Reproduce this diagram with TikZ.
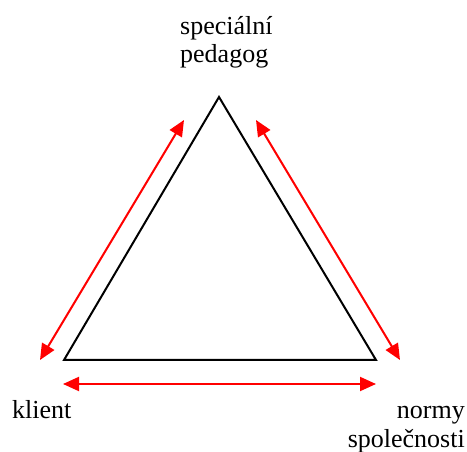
\documentclass[tikz,border=0pt]{standalone}
\usepackage{fontspec}
\setmainfont{Liberation Serif}
\usetikzlibrary{arrows.meta}
\begin{document}
\begin{tikzpicture}[x=1pt,y=-1pt,
  lbl/.style={inner sep=0pt,font=\fontsize{26}{28.5}\selectfont},
  tri/.style={draw=black,line width=2pt,line join=miter},
  rel/.style={draw=red,line width=2pt,{Triangle[length=16pt,width=14pt]}-{Triangle[length=16pt,width=14pt]}}]
\useasboundingbox (0,0) rectangle (467,452);
\coordinate (top) at (219,97);
\coordinate (bl) at (64,360);
\coordinate (br) at (376,360);
\draw[tri] (top) -- (bl) -- (br) -- cycle;
\coordinate (la) at (184,120);
\coordinate (lb) at (40,360);
\coordinate (ra) at (256,120);
\coordinate (rb) at (400,360);
\coordinate (ba) at (63,384);
\coordinate (bb) at (376,384);
\draw[rel] (la) -- (lb);
\draw[rel] (ra) -- (rb);
\draw[rel] (ba) -- (bb);
\node[lbl,anchor=base west,align=left] (sp) at (180,63) {speciální\\pedagog};
\node[lbl,anchor=base west] (kl) at (12,418) {klient};
\node[lbl,anchor=base east,align=right] (nm) at (465,447) {normy\hspace{6.5pt}\\společnosti};
\end{tikzpicture}
\end{document}
